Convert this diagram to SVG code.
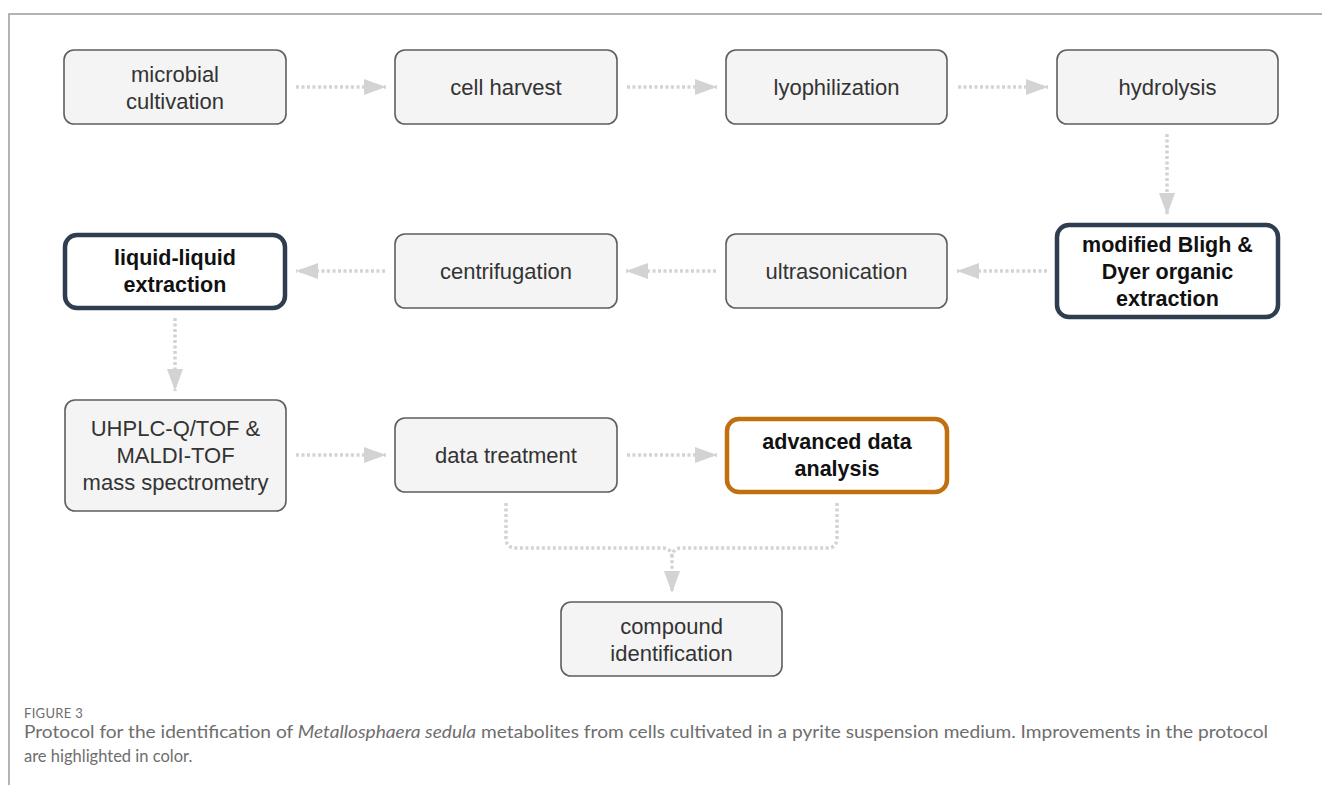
<svg xmlns="http://www.w3.org/2000/svg" width="1322" height="785" viewBox="0 0 1322 785">
<defs>
<marker id="ah" markerUnits="userSpaceOnUse" markerWidth="24" markerHeight="18" refX="22" refY="8" orient="auto">
<path d="M0,0 L22,8 L0,16 z" fill="#d3d3d3"/>
</marker>
<style>
.n rect{fill:#f4f4f4;stroke:#5e5e5e;stroke-width:1.6}
.h rect{fill:#ffffff;stroke:#2e3e50;stroke-width:4.5}
.o rect{fill:#ffffff;stroke:#c0710f;stroke-width:4.5}
text.t{font-family:"Liberation Sans",Arial,sans-serif;font-size:22px;fill:#333;text-anchor:middle}
text.b{font-family:"Liberation Sans",Arial,sans-serif;font-size:21.5px;font-weight:bold;fill:#111;text-anchor:middle}
.c path,.c line{fill:none;stroke:#d3d3d3;stroke-width:3.5;stroke-dasharray:3 2.5}
.cap{font-family:Lato,"Open Sans",sans-serif;fill:#6e6e6e}
</style>
</defs>
<rect x="0" y="0" width="1322" height="785" fill="#ffffff"/>
<path d="M1322,14 H9 V785" fill="none" stroke="#9a9a9a" stroke-width="1.5"/>

<g id="connectors" class="c">
<line x1="296" y1="87" x2="386" y2="87" marker-end="url(#ah)"/>
<line x1="627" y1="87" x2="717" y2="87" marker-end="url(#ah)"/>
<line x1="958" y1="87" x2="1048" y2="87" marker-end="url(#ah)"/>
<line x1="1167" y1="134" x2="1167" y2="215" marker-end="url(#ah)"/>
<line x1="1047" y1="271" x2="957" y2="271" marker-end="url(#ah)"/>
<line x1="716" y1="271" x2="626" y2="271" marker-end="url(#ah)"/>
<line x1="385" y1="271" x2="296" y2="271" marker-end="url(#ah)"/>
<line x1="175" y1="318" x2="175" y2="391" marker-end="url(#ah)"/>
<line x1="296" y1="455" x2="386" y2="455" marker-end="url(#ah)"/>
<line x1="627" y1="455" x2="717" y2="455" marker-end="url(#ah)"/>
<path d="M506,503 V538 Q506,548 516,548 H662 Q672,548 672,558"/>
<path d="M837,503 V538 Q837,548 827,548 H682 Q672,548 672,558 V593" marker-end="url(#ah)"/>
</g>

<g id="n1" class="n"><rect x="64" y="50" width="222" height="74" rx="10"/>
<text class="t" x="175" y="82">microbial</text><text class="t" x="175" y="109">cultivation</text></g>
<g id="n2" class="n"><rect x="395" y="50" width="222" height="74" rx="10"/>
<text class="t" x="506" y="95">cell harvest</text></g>
<g id="n3" class="n"><rect x="726" y="50" width="221" height="74" rx="10"/>
<text class="t" x="836.5" y="95">lyophilization</text></g>
<g id="n4" class="n"><rect x="1057" y="50" width="221" height="74" rx="10"/>
<text class="t" x="1167.5" y="95">hydrolysis</text></g>

<g id="n5" class="h"><rect x="1057" y="225" width="221" height="92" rx="12"/>
<text class="b" x="1167.5" y="252">modified Bligh &amp;</text><text class="b" x="1167.5" y="279">Dyer organic</text><text class="b" x="1167.5" y="306">extraction</text></g>
<g id="n6" class="n"><rect x="726" y="234" width="221" height="74" rx="10"/>
<text class="t" x="836.5" y="279">ultrasonication</text></g>
<g id="n7" class="n"><rect x="395" y="234" width="222" height="74" rx="10"/>
<text class="t" x="506" y="279">centrifugation</text></g>
<g id="n8" class="h"><rect x="65" y="235" width="220" height="73" rx="12"/>
<text class="b" x="175" y="265">liquid-liquid</text><text class="b" x="175" y="292">extraction</text></g>

<g id="n9" class="n"><rect x="65" y="400" width="221" height="111" rx="10"/>
<text class="t" x="175.5" y="436">UHPLC-Q/TOF &amp;</text><text class="t" x="175.5" y="463">MALDI-TOF</text><text class="t" x="175.5" y="490">mass spectrometry</text></g>
<g id="n10" class="n"><rect x="395" y="418" width="222" height="74" rx="10"/>
<text class="t" x="506" y="463">data treatment</text></g>
<g id="n11" class="o"><rect x="727" y="419" width="220" height="73" rx="12"/>
<text class="b" x="837" y="449">advanced data</text><text class="b" x="837" y="476">analysis</text></g>
<g id="n12" class="n"><rect x="561" y="602" width="221" height="74" rx="10"/>
<text class="t" x="671.5" y="634">compound</text><text class="t" x="671.5" y="661">identification</text></g>

<g id="caption">
<text class="cap" x="24" y="718" font-size="13" fill="#7a7a7a" letter-spacing="0.3">FIGURE 3</text>
<text class="cap" x="24" y="738" font-size="16.5" textLength="1244" lengthAdjust="spacingAndGlyphs">Protocol for the identification of <tspan font-style="italic">Metallosphaera sedula</tspan> metabolites from cells cultivated in a pyrite suspension medium. Improvements in the protocol</text>
<text class="cap" x="24" y="762" font-size="16.5">are highlighted in color.</text>
</g>
</svg>
